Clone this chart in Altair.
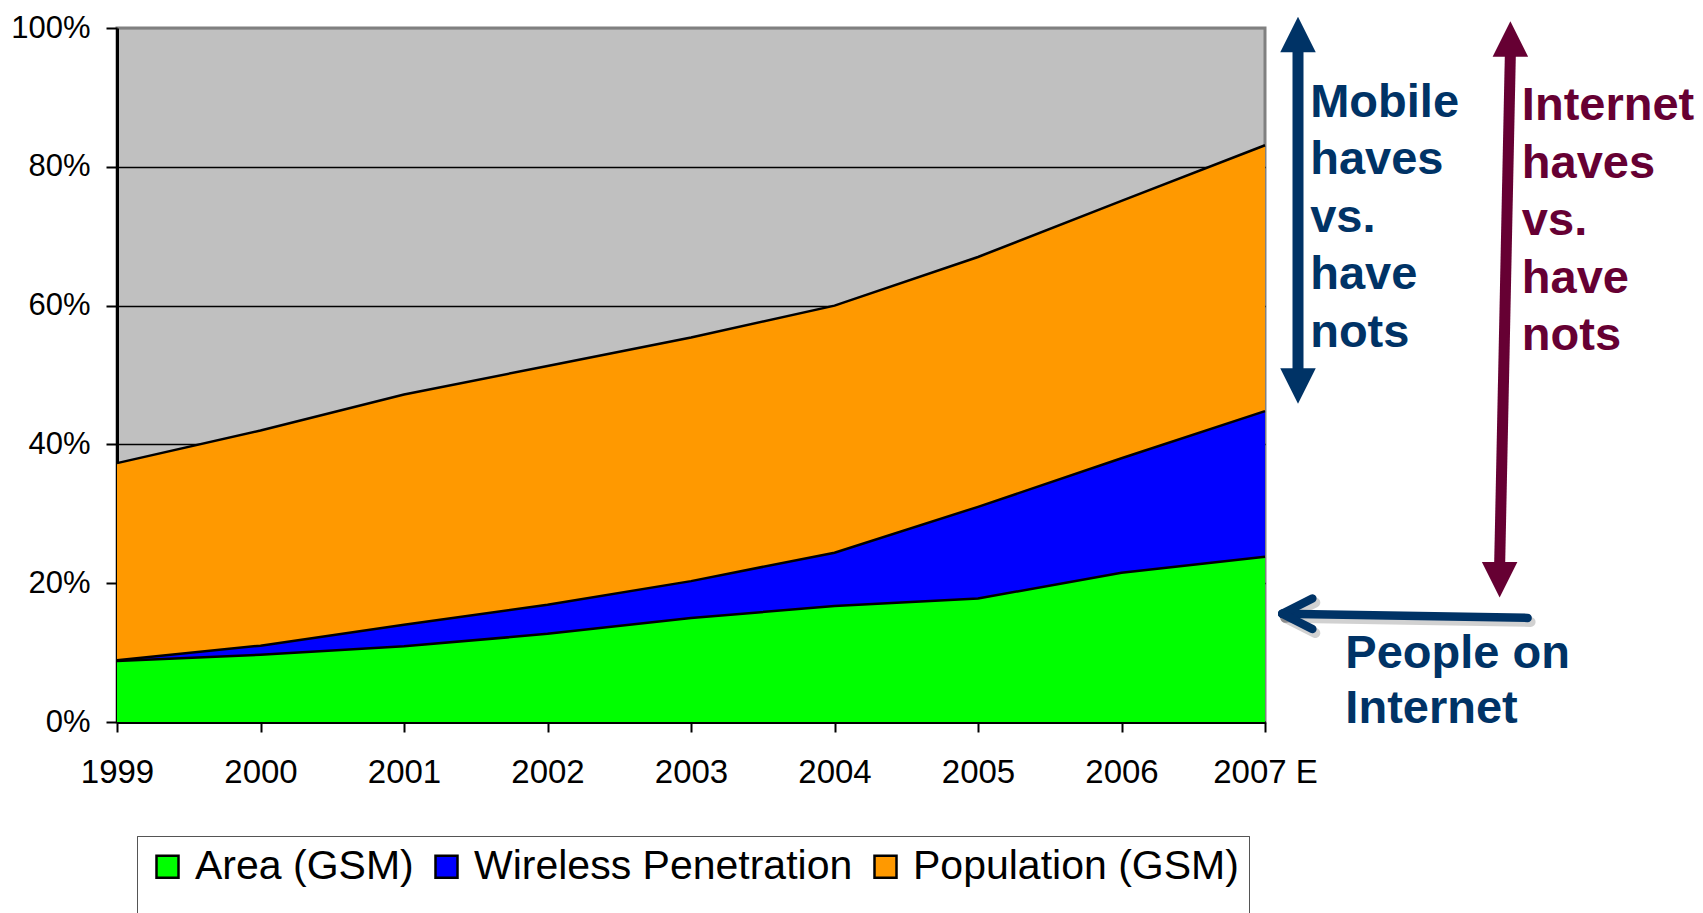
import altair as alt
import pandas as pd

# --- chart data (percent of population) ---
years = [1999, 2000, 2001, 2002, 2003, 2004, 2005, 2006, 2007]
area_gsm = [8.8, 9.7, 10.9, 12.7, 15.0, 16.7, 17.8, 21.5, 23.8]
wireless_penetration = [8.9, 11.0, 14.0, 16.9, 20.3, 24.4, 31.0, 38.0, 44.8]
population_gsm = [37.3, 42.0, 47.2, 51.3, 55.4, 60.0, 67.0, 75.1, 83.1]

series_names = ["Area (GSM)", "Wireless Penetration", "Population (GSM)"]
series_values = [area_gsm, wireless_penetration, population_gsm]
series_colors = ["#00FF00", "#0000FF", "#FF9900"]

y_ticks = [0, 20, 40, 60, 80, 100]

NAVY = "#003366"
MAROON = "#660033"
FONT = "Liberation Sans"

df = pd.DataFrame({
    "year": [yr for _ in series_names for yr in years],
    "value": [v for vals in series_values for v in vals],
    "series": [name for name in series_names for _ in years],
})

x_enc = alt.X(
    "year:Q",
    title=None,
    scale=alt.Scale(domain=[1999, 2007], nice=False, zero=False),
    axis=alt.Axis(
        values=years,
        labelExpr="datum.value == 2007 ? '2007 E' : '' + datum.value",
        labelFont=FONT, labelFontSize=33, labelColor="black",
        labelPadding=24, labelFlush=False, labelOverlap=False,
        tickColor="black", tickSize=10, tickWidth=2,
        domainColor="black", domainWidth=3, grid=False,
    ),
)
y_enc = alt.Y(
    "value:Q",
    title=None,
    stack=None,
    scale=alt.Scale(domain=[0, 100], nice=False),
    axis=alt.Axis(
        values=y_ticks,
        labelExpr="datum.value + '%'",
        labelFont=FONT, labelFontSize=31, labelColor="black",
        labelPadding=16,
        tickColor="black", tickSize=11, tickWidth=2,
        domainColor="black", domainWidth=3,
        grid=True, gridWidth=1.5,
        gridColor={"condition": {"test": "datum.value == 100", "value": "#808080"}, "value": "black"},
    ),
)
color_enc = alt.Color(
    "series:N",
    scale=alt.Scale(domain=series_names, range=series_colors),
    legend=alt.Legend(
        title=" ", titleOrient="bottom", titleFontSize=24, titlePadding=0,
        orient="none", legendX=20, legendY=808,
        direction="horizontal",
        symbolType="square", symbolSize=484,
        symbolStrokeColor="black", symbolStrokeWidth=2.5,
        labelFont=FONT, labelFontSize=41, labelColor="black", labelLimit=0,
        labelOffset=7, columnPadding=12, padding=10,
        strokeColor="#555555", fillColor="white",
    ),
)

layers = []
# overlapping areas, the largest drawn first
for name in reversed(series_names):
    sub = df[df["series"] == name]
    layers.append(
        alt.Chart(sub).mark_area(interpolate="linear", opacity=1).encode(
            x=x_enc, y=y_enc, color=color_enc
        )
    )
for name in series_names:
    sub = df[df["series"] == name]
    layers.append(
        alt.Chart(sub).mark_line(color="black", strokeWidth=2.5).encode(
            x="year:Q", y="value:Q"
        )
    )

# --- right-hand annotations (placed in year / percent units) ---
who_color = alt.Color(
    "who:N", scale=alt.Scale(domain=["mobile", "internet"], range=[NAVY, MAROON]), legend=None
)

shafts = pd.DataFrame({
    "year": [2007.23, 2008.71],
    "value": [97.0, 96.5],
    "year2": [2007.23, 2008.635],
    "value2": [50.0, 22.5],
    "who": ["mobile", "internet"],
})
shaft_layer = alt.Chart(shafts).mark_rule(strokeWidth=11).encode(
    x="year:Q", y="value:Q", x2="year2:Q", y2="value2:Q", color=who_color
)

heads_up = pd.DataFrame({"year": [2007.23, 2008.71], "value": [99.05, 98.4], "who": ["mobile", "internet"]})
heads_down = pd.DataFrame({"year": [2007.23, 2008.635], "value": [48.4, 20.5], "who": ["mobile", "internet"]})
up_layer = alt.Chart(heads_up).mark_point(
    shape="M0,-1L1,1L-1,1Z", filled=True, opacity=1, size=1260, strokeWidth=0
).encode(x="year:Q", y="value:Q", color=who_color)
down_layer = alt.Chart(heads_down).mark_point(
    shape="M0,1L1,-1L-1,-1Z", filled=True, opacity=1, size=1260, strokeWidth=0
).encode(x="year:Q", y="value:Q", color=who_color)

# left-pointing arrow towards the internet-user share
pointer = pd.DataFrame({
    "year": [2008.83, 2007.12, 2007.12],
    "value": [15.0, 15.6, 15.6],
    "year2": [2007.12, 2007.33, 2007.33],
    "value2": [15.6, 17.8, 13.4],
})
pointer_shadow = alt.Chart(pointer).mark_rule(
    strokeWidth=10, strokeCap="round", color="#000000", opacity=0.18,
    xOffset=3, yOffset=4, x2Offset=3, y2Offset=4,
).encode(x="year:Q", y="value:Q", x2="year2:Q", y2="value2:Q")
pointer_layer = alt.Chart(pointer).mark_rule(
    strokeWidth=8.5, strokeCap="round", color=NAVY
).encode(x="year:Q", y="value:Q", x2="year2:Q", y2="value2:Q")

labels = pd.DataFrame({
    "year": [2007.315, 2008.79],
    "value": [87.2, 86.7],
    "text": ["Mobile\nhaves\nvs.\nhave\nnots", "Internet\nhaves\nvs.\nhave\nnots"],
    "who": ["mobile", "internet"],
})
label_layer = alt.Chart(labels).mark_text(
    align="left", baseline="alphabetic", lineBreak="\n", lineHeight=57.5,
    font=FONT, fontWeight="bold", fontSize=47,
).encode(x="year:Q", y="value:Q", text="text:N", color=who_color)

people = pd.DataFrame({"year": [2007.56], "value": [7.8], "text": ["People on\nInternet"]})
people_layer = alt.Chart(people).mark_text(
    align="left", baseline="alphabetic", lineBreak="\n", lineHeight=55,
    font=FONT, fontWeight="bold", fontSize=47, color=NAVY,
).encode(x="year:Q", y="value:Q", text="text:N")

layers += [shaft_layer, up_layer, down_layer, pointer_shadow, pointer_layer, label_layer, people_layer]

chart = alt.layer(*layers).resolve_scale(color="independent").properties(
    width=1148,
    height=694,
    autosize=alt.AutoSizeParams(type="none"),
    padding={"left": 117, "top": 28, "right": 438, "bottom": 191},
    background="white",
).configure_view(
    fill="#C0C0C0", stroke="#808080", strokeWidth=3
)

chart.save("out.html", embed_options={"renderer": "svg", "actions": False})
